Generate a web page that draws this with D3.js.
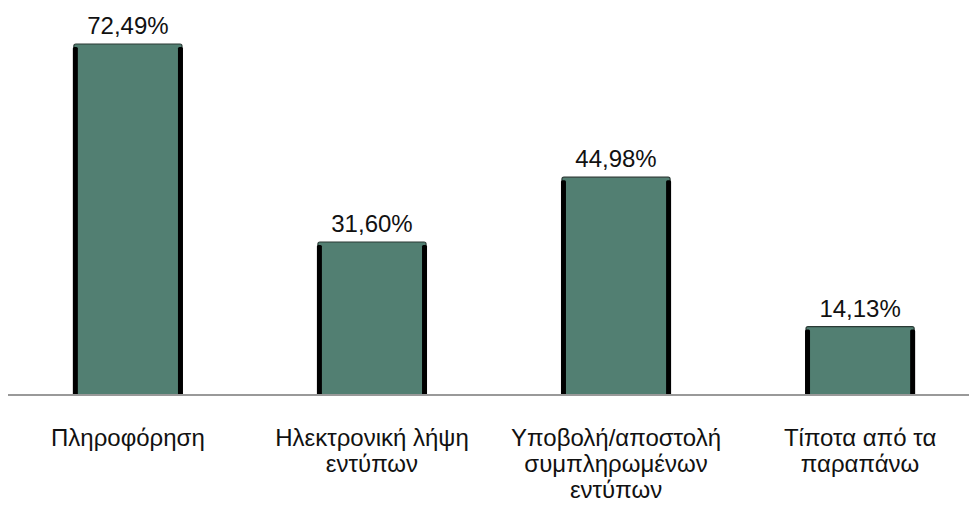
<!DOCTYPE html>
<html><head><meta charset="utf-8">
<script src="https://cdn.jsdelivr.net/npm/d3@7"></script>
<style>body{margin:0;background:#fff}svg{display:block}text{font-family:"Liberation Sans",Arial,sans-serif;fill:#111}</style>
</head><body>
<svg id="c" width="969" height="506"></svg>
<script>
const categories = [["Πληροφόρηση"],["Ηλεκτρονική λήψη","εντύπων"],["Υποβολή/αποστολή","συμπληρωμένων","εντύπων"],["Τίποτα από τα","παραπάνω"]];
const values = [72.49, 31.60, 44.98, 14.13];
const valueLabels = ["72,49%","31,60%","44,98%","14,13%"];

const svg = d3.select("#c");
const x = d3.scaleBand().domain(d3.range(values.length)).range([6, 982]).paddingInner(0.557).paddingOuter(0.278);
const y = d3.scaleLinear().domain([0, 72.49]).range([395, 44]);
const bw = x.bandwidth();

const g = svg.append("g");
values.forEach((v, i) => {
  const x0 = x(i), y0 = y(v), h = y(0) - y(v);
  g.append("rect").attr("x", x0).attr("y", y0).attr("width", bw).attr("height", h)
    .attr("fill", "#527f72").attr("stroke", "#2a3a35").attr("stroke-width", 1.2).attr("rx", 2);
  g.append("rect").attr("x", x0 - 1).attr("y", y0 + 3).attr("width", 5).attr("height", h - 3).attr("fill", "#000").attr("rx", 1.5);
  g.append("rect").attr("x", x0 + bw - 4).attr("y", y0 + 3).attr("width", 5).attr("height", h - 3).attr("fill", "#000").attr("rx", 1.5);
  g.append("text").attr("x", x0 + bw / 2).attr("y", y0 - 10).attr("text-anchor", "middle").attr("font-size", 24).text(valueLabels[i]);
});

svg.append("line").attr("x1", 8).attr("x2", 969).attr("y1", y(0)).attr("y2", y(0)).attr("stroke", "#999").attr("stroke-width", 2);

categories.forEach((lines, i) => {
  const t = svg.append("text").attr("text-anchor", "middle").attr("font-size", 24);
  lines.forEach((l, k) => t.append("tspan").attr("x", x(i) + bw / 2).attr("y", 446 + k * 26).text(l));
});
</script>
</body></html>
